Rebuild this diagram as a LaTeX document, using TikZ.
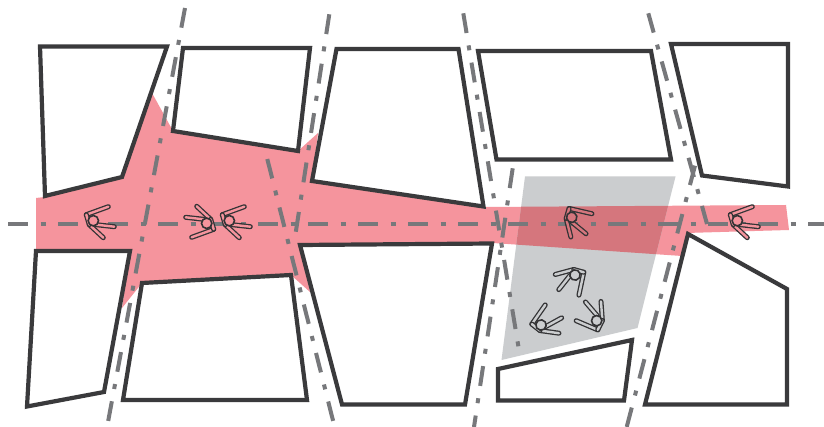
\documentclass[tikz,border=0pt]{standalone}
\definecolor{redarea}{HTML}{F5949D}
\definecolor{greyarea}{HTML}{CBCDCF}
\definecolor{overlap}{HTML}{D5767D}
\definecolor{axisline}{HTML}{77787B}
\definecolor{blockline}{HTML}{3A3A3C}
\definecolor{figline}{HTML}{333335}
\tikzset{
  block/.style={draw=blockline,line width=4.2pt,fill=white,miter limit=10},
  axis/.style={draw=axisline,line width=4pt,dash pattern=on 20pt off 12.5pt on 5pt off 12.5pt},
}
\newcommand{\redpath}{(36,198) -- (45,197) -- (122,177) -- (152,93) -- (173,131) -- (298,151) -- (318,133) -- (312,181) -- (484,207) -- (786,205) -- (789,230) -- (686,233) -- (682,256) -- (493,243) -- (300,245) -- (310,292) -- (291,275) -- (142,283) -- (122,308) -- (130,251) -- (36,251) -- cycle}
\newcommand{\greypath}{(525,176.5) -- (675.5,176.5) -- (637.5,328) -- (501.5,360) -- cycle}
\newcommand{\limb}[5]{%
  \draw[figline,line width=5pt,line cap=round] (#1,#2) -- (#3,#4);
  \draw[#5,line width=2.4pt,line cap=round] (#1,#2) -- (#3,#4);}
\newcommand{\walker}[4]{%
\begin{scope}[shift={(#1,#2)},rotate=-#3]
  \limb{-7}{-6}{15}{-14}{#4}
  \limb{-4}{4}{10}{17}{#4}
  \limb{3}{4}{21}{6}{#4}
  \limb{-7}{-6}{-4}{4}{#4}
  \draw[figline,line width=1.6pt,fill=#4] (0,0) circle (5.2pt);
\end{scope}}
\begin{document}
\begin{tikzpicture}[x=1pt,y=-1pt]
\useasboundingbox (0,0) rectangle (824,427);
\fill[white] (0,0) rectangle (824,427);
% areas
\fill[redarea] \redpath;
\fill[greyarea] \greypath;
\begin{scope}
  \clip \greypath;
  \fill[overlap] \redpath;
\end{scope}
% blocks
\path[block] (40,46.5) -- (167,46.5) -- (122,177) -- (45,196) -- cycle;
\path[block] (183,48) -- (310,48) -- (298,151) -- (173,131) -- cycle;
\path[block] (336.5,49) -- (458.5,49) -- (483.5,206.5) -- (312,181) -- cycle;
\path[block] (478,51) -- (651,51) -- (671,159.5) -- (496.5,159.5) -- cycle;
\path[block] (671,44) -- (788,44) -- (788,186.5) -- (702,175.5) -- cycle;
\path[block] (36,251) -- (130,251) -- (104,392) -- (27,406.5) -- cycle;
\path[block] (142,283) -- (291,275) -- (307,400) -- (123,400) -- cycle;
\path[block] (300,245) -- (492,243.5) -- (465,404.5) -- (342,404.5) -- cycle;
\path[block] (498,369) -- (632,340) -- (624,400.5) -- (498,400.5) -- cycle;
\path[block] (688,234) -- (787,289) -- (787,404.5) -- (645,404.5) -- cycle;
% axes
\draw[axis] (8,224) -- (824,224);
\draw[axis] (185,8) -- (108,422);
\draw[axis] (329.3,14.3) -- (295.7,232.7);
\draw[axis] (267.3,159) -- (333.3,421.7);
\draw[axis] (463.3,13.3) -- (518.5,347);
\draw[axis] (512.7,168.3) -- (474,427);
\draw[axis] (648.3,13.3) -- (707,224);
\draw[axis] (695,165.7) -- (626.7,427);
% pedestrians
\walker{93.3}{220.7}{0}{redarea}
\walker{206.7}{223.3}{180}{redarea}
\walker{229.3}{220.7}{0}{redarea}
\walker{571.7}{217.3}{33}{overlap}
\walker{737.3}{220.7}{0}{redarea}
\walker{575}{275}{122}{greyarea}
\walker{541}{325}{-35}{greyarea}
\walker{596.7}{320.7}{-137}{greyarea}
\end{tikzpicture}
\end{document}
